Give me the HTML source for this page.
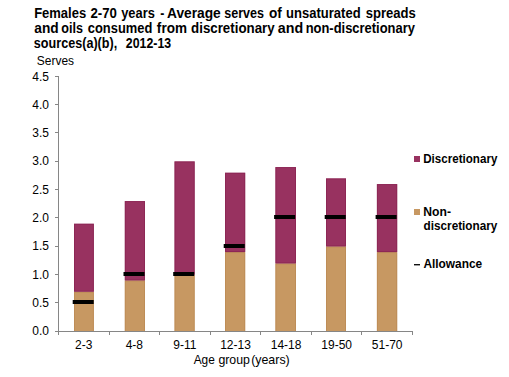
<!DOCTYPE html>
<html><head><meta charset="utf-8">
<style>
html,body{margin:0;padding:0;background:#fff;width:509px;height:377px;overflow:hidden}
svg{display:block;font-family:"Liberation Sans",sans-serif}
text{fill:#000}
</style></head><body>
<svg width="509" height="377" viewBox="0 0 509 377">
<text transform="translate(34.13,18) scale(0.928,1.0)" font-size="14" font-weight="bold">Females</text>
<text transform="translate(90.44,18) scale(0.946,1.0)" font-size="14" font-weight="bold">2-70</text>
<text transform="translate(121.20,18) scale(0.919,1.0)" font-size="14" font-weight="bold">years</text>
<text transform="translate(160.22,18) scale(0.872,1.0)" font-size="14" font-weight="bold">-</text>
<text transform="translate(166.96,18) scale(0.983,1.0)" font-size="14" font-weight="bold">Average</text>
<text transform="translate(224.26,18) scale(0.898,1.0)" font-size="14" font-weight="bold">serves</text>
<text transform="translate(268.97,18) scale(0.969,1.0)" font-size="14" font-weight="bold">of</text>
<text transform="translate(286.09,18) scale(0.931,1.0)" font-size="14" font-weight="bold">unsaturated</text>
<text transform="translate(365.64,18) scale(0.935,1.0)" font-size="14" font-weight="bold">spreads</text>
<text transform="translate(34.30,33) scale(0.981,1.0)" font-size="14" font-weight="bold">and</text>
<text transform="translate(61.31,33) scale(0.896,1.0)" font-size="14" font-weight="bold">oils</text>
<text transform="translate(87.80,33) scale(0.922,1.0)" font-size="14" font-weight="bold">consumed</text>
<text transform="translate(156.87,33) scale(0.967,1.0)" font-size="14" font-weight="bold">from</text>
<text transform="translate(191.05,33) scale(0.951,1.0)" font-size="14" font-weight="bold">discretionary</text>
<text transform="translate(277.78,33) scale(1.019,1.0)" font-size="14" font-weight="bold">and</text>
<text transform="translate(305.65,33) scale(0.925,1.0)" font-size="14" font-weight="bold">non-discretionary</text>
<text transform="translate(33.86,48) scale(0.901,1.0)" font-size="14" font-weight="bold">sources(a)(b),</text>
<text transform="translate(125.87,48) scale(0.881,1.0)" font-size="14" font-weight="bold">2012-13</text>
<text transform="translate(36.86,64.5) scale(0.998,1.0)" font-size="12" font-weight="normal">Serves</text>
<text x="49" y="335.30" font-size="12" text-anchor="end">0.0</text>
<text x="49" y="306.97" font-size="12" text-anchor="end">0.5</text>
<text x="49" y="278.63" font-size="12" text-anchor="end">1.0</text>
<text x="49" y="250.30" font-size="12" text-anchor="end">1.5</text>
<text x="49" y="221.97" font-size="12" text-anchor="end">2.0</text>
<text x="49" y="193.63" font-size="12" text-anchor="end">2.5</text>
<text x="49" y="165.30" font-size="12" text-anchor="end">3.0</text>
<text x="49" y="136.97" font-size="12" text-anchor="end">3.5</text>
<text x="49" y="108.63" font-size="12" text-anchor="end">4.0</text>
<text x="49" y="81.10" font-size="12" text-anchor="end">4.5</text>
<rect x="74.00" y="291.73" width="19.90" height="39.27" fill="#C79862"/>
<path d="M74.50 331V292.23H93.40V331" fill="none" stroke="#B88550" stroke-width="1" opacity="0.6"/>
<rect x="74.00" y="223.73" width="19.90" height="68.00" fill="#983260"/>
<rect x="74.50" y="224.23" width="18.90" height="67.00" fill="none" stroke="#85204F" stroke-width="1" opacity="0.6"/>
<rect x="72.70" y="300" width="21" height="4" fill="#000"/>
<rect x="124.80" y="280.40" width="20.20" height="50.60" fill="#C79862"/>
<path d="M125.30 331V280.90H144.50V331" fill="none" stroke="#B88550" stroke-width="1" opacity="0.6"/>
<rect x="124.80" y="201.07" width="20.20" height="79.33" fill="#983260"/>
<rect x="125.30" y="201.57" width="19.20" height="78.33" fill="none" stroke="#85204F" stroke-width="1" opacity="0.6"/>
<rect x="123.50" y="272" width="21" height="4" fill="#000"/>
<rect x="174.50" y="274.73" width="20.20" height="56.27" fill="#C79862"/>
<path d="M175.00 331V275.23H194.20V331" fill="none" stroke="#B88550" stroke-width="1" opacity="0.6"/>
<rect x="174.50" y="161.40" width="20.20" height="113.33" fill="#983260"/>
<rect x="175.00" y="161.90" width="19.20" height="112.33" fill="none" stroke="#85204F" stroke-width="1" opacity="0.6"/>
<rect x="173.20" y="272" width="21" height="4" fill="#000"/>
<rect x="225.00" y="252.07" width="20.20" height="78.93" fill="#C79862"/>
<path d="M225.50 331V252.57H244.70V331" fill="none" stroke="#B88550" stroke-width="1" opacity="0.6"/>
<rect x="225.00" y="172.73" width="20.20" height="79.33" fill="#983260"/>
<rect x="225.50" y="173.23" width="19.20" height="78.33" fill="none" stroke="#85204F" stroke-width="1" opacity="0.6"/>
<rect x="223.70" y="244" width="21" height="4" fill="#000"/>
<rect x="275.40" y="263.40" width="20.60" height="67.60" fill="#C79862"/>
<path d="M275.90 331V263.90H295.50V331" fill="none" stroke="#B88550" stroke-width="1" opacity="0.6"/>
<rect x="275.40" y="167.07" width="20.60" height="96.33" fill="#983260"/>
<rect x="275.90" y="167.57" width="19.60" height="95.33" fill="none" stroke="#85204F" stroke-width="1" opacity="0.6"/>
<rect x="274.10" y="215" width="21" height="4" fill="#000"/>
<rect x="326.00" y="246.40" width="20.00" height="84.60" fill="#C79862"/>
<path d="M326.50 331V246.90H345.50V331" fill="none" stroke="#B88550" stroke-width="1" opacity="0.6"/>
<rect x="326.00" y="178.40" width="20.00" height="68.00" fill="#983260"/>
<rect x="326.50" y="178.90" width="19.00" height="67.00" fill="none" stroke="#85204F" stroke-width="1" opacity="0.6"/>
<rect x="324.70" y="215" width="21" height="4" fill="#000"/>
<rect x="376.90" y="252.07" width="20.30" height="78.93" fill="#C79862"/>
<path d="M377.40 331V252.57H396.70V331" fill="none" stroke="#B88550" stroke-width="1" opacity="0.6"/>
<rect x="376.90" y="184.07" width="20.30" height="68.00" fill="#983260"/>
<rect x="377.40" y="184.57" width="19.30" height="67.00" fill="none" stroke="#85204F" stroke-width="1" opacity="0.6"/>
<rect x="375.60" y="215" width="21" height="4" fill="#000"/>
<g stroke="#868686" stroke-width="1" fill="none" shape-rendering="crispEdges"><path d="M58.5 76V335" /><path d="M55 331.5H58M55 302.5H58M55 274.5H58M55 246.5H58M55 217.5H58M55 189.5H58M55 161.5H58M55 132.5H58M55 104.5H58M55 76.5H58"/><path d="M58 331.5H413"/><path d="M109.5 331V335M159.5 331V335M210.5 331V335M260.5 331V335M311.5 331V335M361.5 331V335M412.5 331V335"/></g>
<text x="83.79" y="349" font-size="12" text-anchor="middle">2-3</text>
<text x="134.36" y="349" font-size="12" text-anchor="middle">4-8</text>
<text x="184.93" y="349" font-size="12" text-anchor="middle">9-11</text>
<text x="235.50" y="349" font-size="12" text-anchor="middle">12-13</text>
<text x="286.07" y="349" font-size="12" text-anchor="middle">14-18</text>
<text x="336.64" y="349" font-size="12" text-anchor="middle">19-50</text>
<text x="387.21" y="349" font-size="12" text-anchor="middle">51-70</text>
<text transform="translate(193.68,364.3) scale(0.991,1.0)" font-size="12" font-weight="normal">Age</text>
<text transform="translate(218.38,364.3) scale(1.028,1.0)" font-size="12" font-weight="normal">group</text>
<text transform="translate(251.13,364.3) scale(1.035,1.0)" font-size="12" font-weight="normal">(years)</text>
<rect x="414" y="156" width="6" height="6" fill="#983260"/>
<text transform="translate(423.22,162.7) scale(0.967,1.0)" font-size="12" font-weight="bold">Discretionary</text>
<rect x="414" y="209" width="6" height="6" fill="#C79862"/>
<text transform="translate(423.29,215.6) scale(1.014,1.0)" font-size="12" font-weight="bold">Non-</text>
<text transform="translate(423.52,229.5) scale(0.981,1.0)" font-size="12" font-weight="bold">discretionary</text>
<rect x="414" y="264" width="6" height="1.4" fill="#111"/>
<text transform="translate(423.40,268.2) scale(0.992,1.0)" font-size="12" font-weight="bold">Allowance</text>
</svg>
</body></html>
